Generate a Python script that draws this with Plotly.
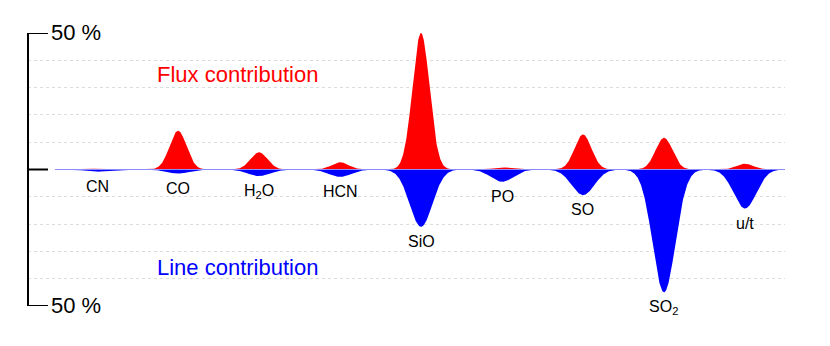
import numpy as np
import plotly.graph_objects as go

# ---- data (percent contributions) ----
molecules = ["CN", "CO", "H<sub>2</sub>O", "HCN", "SiO", "PO", "SO", "SO<sub>2</sub>", "u/t"]
flux_pct = [0.3, 14.2, 6.3, 2.7, 50.0, 0.8, 12.8, 11.6, 2.1]
line_pct = [0.8, 1.5, 2.4, 2.7, 21.0, 4.5, 9.4, 45.0, 14.3]
grid_vals = [-50, -40, -30, -20, -10, 10, 20, 30, 40, 50]

# ---- peak rendering (each contribution drawn as a smooth peak) ----
SIG_FLUX = 0.105
SIG_LINE = 0.14
xs = np.linspace(-0.52, 8.5, 2000)
centers = np.arange(len(molecules))
flux_curve = np.zeros_like(xs)
line_curve = np.zeros_like(xs)
for c, f, l in zip(centers, flux_pct, line_pct):
    flux_curve += f * np.exp(-0.5 * ((xs - c) / SIG_FLUX) ** 2)
    line_curve -= l * np.exp(-0.5 * ((xs - c) / SIG_LINE) ** 2)

FONT = "Liberation Sans, Arial, Helvetica, sans-serif"

fig = go.Figure()
fig.add_trace(go.Scatter(x=xs, y=flux_curve, mode="lines", fill="tozeroy",
                         fillcolor="#ff0000", line=dict(width=0, color="#ff0000"),
                         hoverinfo="skip"))
fig.add_trace(go.Scatter(x=xs, y=line_curve, mode="lines", fill="tozeroy",
                         fillcolor="#0000ff", line=dict(width=0, color="#0000ff"),
                         hoverinfo="skip"))
fig.add_trace(go.Scatter(x=[xs[0], xs[-1]], y=[0, 0], mode="lines",
                         line=dict(width=1.2, color="#8c8cff"), hoverinfo="skip"))

# molecule labels under each peak
for c, name, l in zip(centers, molecules, line_pct):
    fig.add_annotation(x=c, y=-l, text=name, showarrow=False, yanchor="top",
                       yshift=-4, font=dict(family=FONT, size=16, color="#000"))

fig.add_annotation(x=1.73, y=34.7, text="Flux contribution", showarrow=False,
                   font=dict(family=FONT, size=22, color="#ff0000"))
fig.add_annotation(x=1.73, y=-35.8, text="Line contribution", showarrow=False,
                   font=dict(family=FONT, size=22, color="#0000ff"))

# axis labels
for v in (50, -50):
    fig.add_annotation(xref="paper", x=0.028, y=v, text="50 %", showarrow=False,
                       xanchor="left", yanchor="middle", yshift=1,
                       font=dict(family=FONT, size=22, color="#000"))

tick = 20 / 757
fig.add_shape(type="path", xref="paper", yref="y",
              path=f"M {tick},50 L 0,50 L 0,-50 L {tick},-50",
              line=dict(color="#000", width=2))
fig.add_shape(type="line", xref="paper", yref="y", x0=0, x1=tick, y0=0, y1=0,
              line=dict(color="#000", width=2))

fig.update_layout(
    width=822, height=338,
    margin=dict(l=20, r=45, t=25, b=40),
    paper_bgcolor="white", plot_bgcolor="white",
    showlegend=False,
    xaxis=dict(range=[-0.852, 8.494], visible=False),
    yaxis=dict(range=[-50, 50], tickvals=grid_vals, showticklabels=False,
               showgrid=True, gridcolor="#dcdcdc", griddash="dot", gridwidth=1,
               zeroline=False, showline=False, ticks=""),
)

fig.write_html("out.html")
